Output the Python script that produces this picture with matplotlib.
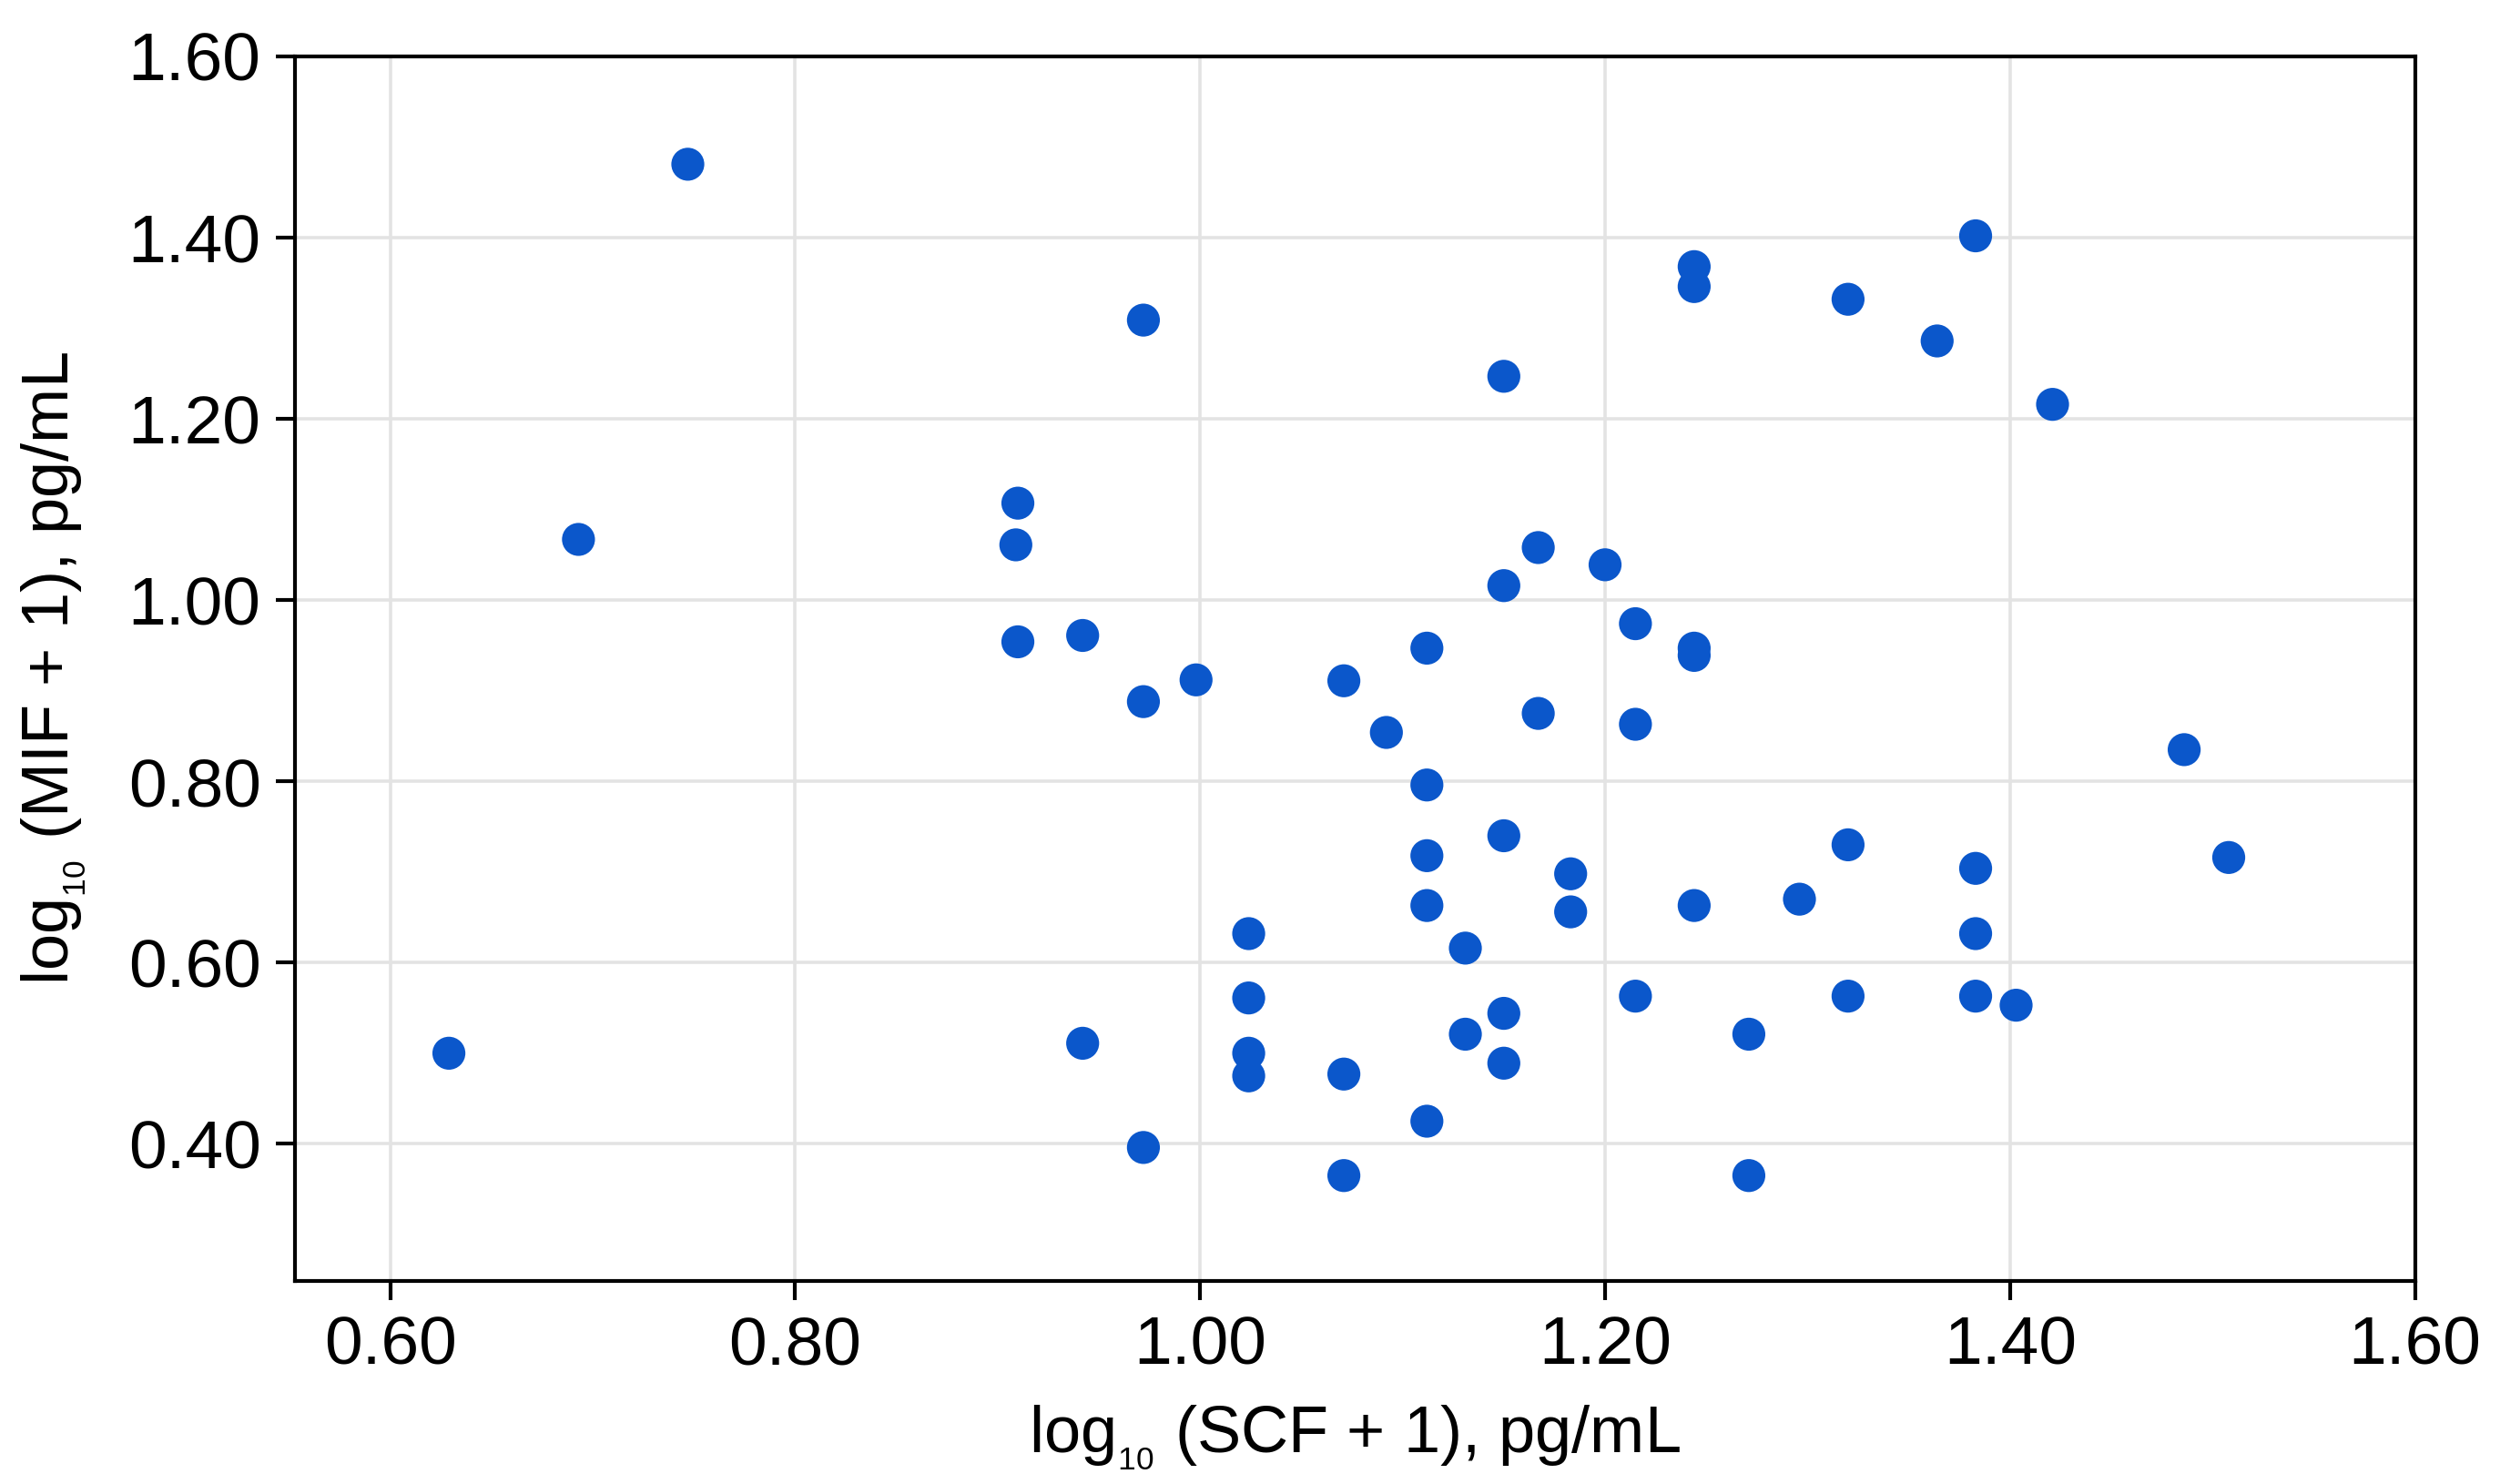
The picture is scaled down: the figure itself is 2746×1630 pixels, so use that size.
import matplotlib
matplotlib.use("Agg")
import matplotlib.pyplot as plt

# ===============================
# DATA
# ===============================
scf = [0.629, 0.693, 0.747, 0.910, 0.909, 0.910, 0.942, 0.942, 0.972, 0.972,
       0.972, 0.998, 1.024, 1.024, 1.024, 1.024, 1.071, 1.071, 1.071, 1.092,
       1.112, 1.112, 1.112, 1.112, 1.112, 1.131, 1.131, 1.150, 1.150, 1.150,
       1.150, 1.150, 1.167, 1.167, 1.183, 1.183, 1.200, 1.215, 1.215, 1.215,
       1.244, 1.244, 1.244, 1.244, 1.244, 1.271, 1.271, 1.296, 1.320, 1.320,
       1.320, 1.364, 1.383, 1.383, 1.383, 1.383, 1.403, 1.421, 1.486, 1.508]
mif = [0.500, 1.067, 1.481, 1.107, 1.061, 0.954, 0.961, 0.511, 1.309, 0.888,
       0.396, 0.912, 0.632, 0.561, 0.500, 0.475, 0.911, 0.477, 0.365, 0.854,
       0.796, 0.947, 0.718, 0.663, 0.425, 0.616, 0.521, 1.247, 1.016, 0.740,
       0.544, 0.489, 1.058, 0.875, 0.698, 0.656, 1.039, 0.974, 0.863, 0.563,
       1.368, 1.346, 0.947, 0.939, 0.663, 0.521, 0.365, 0.670, 1.332, 0.730,
       0.563, 1.286, 1.402, 0.704, 0.632, 0.563, 0.553, 1.216, 0.835, 0.716]

x_ticks = [0.60, 0.80, 1.00, 1.20, 1.40, 1.60]
y_ticks = [0.40, 0.60, 0.80, 1.00, 1.20, 1.40, 1.60]

# ===============================
# STYLE
# ===============================
plt.rcParams["font.family"] = ["Liberation Sans", "DejaVu Sans"]
plt.rcParams["mathtext.fontset"] = "custom"
plt.rcParams["mathtext.rm"] = "Liberation Sans"

fig = plt.figure(figsize=(13.73, 8.15), dpi=200)
ax = fig.add_axes([0.118, 0.137, 0.848, 0.825])

ax.scatter(scf, mif, s=170, color="#0B57CB", edgecolors="none", zorder=3)

ax.set_xlim(0.553, 1.60)
ax.set_ylim(0.249, 1.60)
ax.set_xticks(x_ticks)
ax.set_yticks(y_ticks)
ax.set_xticklabels([f"{t:.2f}" for t in x_ticks])
ax.set_yticklabels([f"{t:.2f}" for t in y_ticks])

ax.grid(True, color="#e3e3e3", linewidth=1.3, zorder=0)
ax.set_axisbelow(True)

for sp in ax.spines.values():
    sp.set_color("black")
    sp.set_linewidth(1.5)

ax.tick_params(axis="both", which="major", labelsize=27, length=7.5,
               width=1.5, color="black", pad=6)

# subscript drawn small and low, like in the original
ax.set_xlabel(r"log$\mathregular{_{_{10}}}$ (SCF + 1), pg/mL", fontsize=26, labelpad=10)
ax.set_ylabel(r"log$\mathregular{_{_{10}}}$ (MIF + 1), pg/mL", fontsize=26, labelpad=16)

plt.savefig("out.png", dpi=200)
